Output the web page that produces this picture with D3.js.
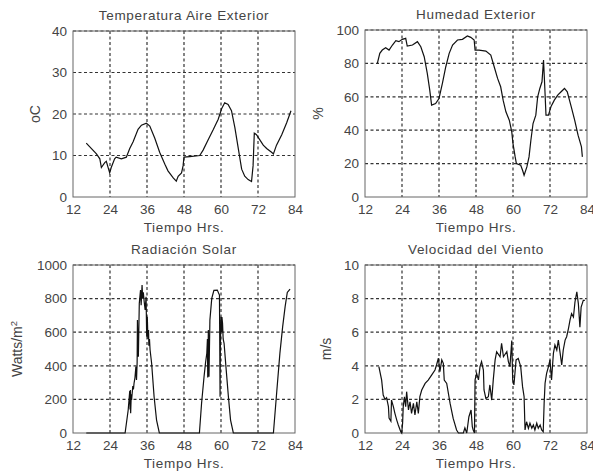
<!DOCTYPE html>
<html>
<head>
<meta charset="utf-8">
<script src="https://cdn.jsdelivr.net/npm/d3@7"></script>
<style>
  body { margin: 0; background: #fff; }
  text { font-family: "Liberation Sans", Arial, sans-serif; fill: #444; }
</style>
</head>
<body>
<svg id="chart"></svg>
<script>
// Set dimensions for the SVG
const width = 593;
const height = 476;

// Shared x ticks (hours)
const hourTicks = [12, 24, 36, 48, 60, 72, 84];

// Temperatura Aire Exterior [hour, oC]
const temperature = [
  [16.3, 13], [19.6, 10.4], [20.7, 9.2], [21.2, 7.1], [22.3, 8.3], [22.8, 8.6],
  [23.9, 5.8], [24.4, 7.1], [25.5, 9.2], [26, 9.6], [27.7, 9.2], [29.3, 9.6],
  [30.4, 11.7], [31.5, 13.3], [33.1, 16.3], [34.2, 17.3], [35.8, 17.8], [36.9, 17.1],
  [38.5, 14.2], [40.1, 10.8], [41.8, 7.9], [42.8, 6.3], [44.5, 4.6], [45.5, 3.8],
  [46.1, 5], [47.2, 5.8], [47.7, 7.5], [48, 9.6], [49.9, 9.75], [53.1, 10],
  [54.2, 11.3], [55.8, 13.75], [57.5, 16.25], [59.1, 18.75], [60.2, 21.25], [61.2, 22.7],
  [62.3, 22.3], [63.4, 20.8], [64.5, 16.7], [65.6, 11.7], [66.7, 6.7], [67.7, 5],
  [68.8, 4.2], [69.9, 3.75], [70.4, 7.5], [70.8, 15.4], [71.5, 15], [72.6, 13.75],
  [73.7, 12.5], [74.8, 11.7], [76.4, 10.8], [77, 10.4], [78, 12.5], [79.7, 15],
  [81.3, 17.9], [82.7, 20.8]
];

// Humedad Exterior [hour, %]
const humidity = [
  [16, 80], [16.8, 86], [17.6, 88], [18.7, 89.4], [19.8, 88], [20.9, 91], [22, 93.6],
  [23, 93], [24.1, 94.4], [25.2, 95], [25.7, 90.4], [27.4, 91], [29, 93], [30.1, 90],
  [31.2, 84], [32.2, 74], [33, 64], [33.6, 55], [34.9, 56], [36, 59], [37.1, 68],
  [38.2, 78], [39.3, 86], [40.4, 91], [42, 94], [43.6, 94.4], [45.2, 96.4], [46.3, 95.6],
  [47.4, 94], [47.7, 88], [49, 88], [51.2, 87.4], [52.8, 85], [53.9, 78], [55, 71],
  [56, 66], [56.8, 58], [57.7, 51], [58.8, 46], [59.6, 39], [60, 32], [60.7, 24],
  [61.1, 20], [62.5, 19], [63.1, 16], [63.6, 13], [64.5, 18], [65.2, 24], [65.8, 34],
  [66.5, 44], [67.4, 49], [68, 60], [68.7, 65], [69.4, 69], [69.9, 82], [70.3, 66],
  [70.7, 49], [71.5, 49], [72.3, 54], [73.4, 58], [74.5, 61], [75.6, 63], [76.7, 65],
  [77.6, 63], [78.9, 54], [80, 46], [81.1, 37], [82.2, 30], [82.5, 24]
];

// Radiación Solar [hour, W/m2]
const radiation = [
  [16.3, 0], [28.9, 0], [29.9, 137], [30.4, 250], [30.5, 140], [30.6, 256], [30.7, 117],
  [30.9, 230], [31, 196], [31.4, 280], [31.6, 260], [31.8, 296], [32.1, 330],
  [32.4, 395], [32.6, 315], [32.8, 420], [32.9, 672], [33.1, 500], [33.2, 454],
  [33.5, 772], [33.9, 851], [34.1, 760], [34.4, 881], [34.6, 800], [34.8, 837],
  [35.1, 780], [35.4, 732], [35.7, 811], [35.9, 573], [36.1, 692], [36.3, 560],
  [36.5, 613], [36.6, 520], [36.8, 560], [37, 494], [37.5, 415], [38.3, 216],
  [39.1, 77], [40, 0], [53, 0], [53.7, 177], [54.5, 335], [55, 420], [55.4, 474],
  [55.6, 560], [55.7, 330], [55.9, 613], [56.1, 335], [56.4, 672], [57, 801],
  [57.7, 849], [58.8, 851], [59.5, 821], [59.7, 216], [59.8, 520], [60, 692],
  [60.2, 600], [60.3, 690], [60.5, 653], [60.7, 560], [61, 534], [61.6, 395],
  [62.4, 216], [63.1, 77], [64, 0], [77, 0], [78.1, 250], [79.1, 474], [80, 633],
  [80.8, 752], [81.5, 837], [82.4, 857]
];

// Velocidad del Viento [hour, m/s]
const wind = [
  [16.5, 3.95], [17.4, 3.15], [17.9, 2.26], [18.5, 2.0], [19.0, 2.1], [19.6, 1.57],
  [19.8, 0.89], [20.4, 0.7], [20.6, 1.96], [21.2, 1.57], [21.7, 1.17], [22.3, 0.77],
  [22.8, 0.48], [23.6, 0.08], [23.9, 0], [24.2, 0.6], [24.4, 1.57], [24.8, 2.16],
  [25.2, 1.57], [25.5, 2.46], [26.1, 1.37], [26.6, 1.86], [27.1, 1.17], [27.7, 1.76],
  [28.2, 1.07], [28.8, 1.86], [29.3, 1.17], [29.8, 2.16], [30.4, 2.56], [31.5, 2.95],
  [32.5, 3.15], [33.6, 3.45], [34.7, 3.75], [35.2, 4.05], [35.8, 4.45], [36.3, 3.65],
  [36.9, 4.35], [37.4, 4.15], [37.7, 3.15], [38.5, 2.95], [39.6, 1.76], [40.6, 0.87],
  [41.7, 0.18], [42.3, 0], [43.9, 0], [44.4, 0.3], [45, 0], [45.7, 0.97], [46.4, 1.37],
  [46.8, 0.38], [47.1, 0.18], [47.5, 0], [47.7, 3.16], [48.2, 3.55], [48.8, 3.16],
  [49.3, 3.95], [49.8, 4.25], [50.4, 3.75], [50.6, 2.56], [51.2, 2.06], [52, 2.16],
  [52.5, 2.86], [53.1, 1.96], [53.6, 3.16], [54.2, 4.35], [54.7, 4.84], [55.8, 4.54],
  [56.3, 5.34], [56.9, 4.54], [58, 4.84], [58.5, 4.25], [59, 3.95], [59.6, 5.5],
  [59.9, 3.16], [60.3, 2.86], [61, 4.35], [61.7, 4.44], [62.5, 3.95], [63.1, 2.76],
  [63.6, 2.16], [63.9, 0.18], [64.4, 0.67], [65, 0.28], [65.5, 0.58], [66.1, 0.28],
  [66.6, 0.48], [67.1, 0.18], [67.7, 0.58], [68.2, 0.28], [68.8, 0.48], [69.3, 0.18],
  [69.8, 0.08], [70.1, 1.77], [70.4, 2.96], [70.9, 3.55], [71.5, 3.95], [72, 4.35],
  [72.5, 3.16], [73.1, 4.74], [73.6, 5.24], [74.2, 4.94], [74.7, 5.53], [75.3, 4.74],
  [75.8, 4.05], [76.3, 4.94], [76.9, 5.53], [77.4, 5.73], [78, 6.23], [78.5, 6.73],
  [79, 7.1], [79.6, 6.9], [80.1, 7.8], [80.7, 8.4], [81.2, 7.7], [81.7, 6.3],
  [82.1, 7.5], [82.8, 7.9], [83.3, 7.9]
];

// Panel definitions (box in pixels)
const panels = [
  { title: "Temperatura Aire Exterior", ylabel: "oC", data: temperature,
    yMax: 40, yTicks: [0, 10, 20, 30, 40], x0: 73, x1: 295, y0: 31, y1: 197, labelX: 40 },
  { title: "Humedad Exterior", ylabel: "%", data: humidity,
    yMax: 100, yTicks: [0, 20, 40, 60, 80, 100], x0: 365, x1: 587, y0: 30, y1: 197, labelX: 323 },
  { title: "Radiación Solar", ylabel: "Watts/m", sup: "2", data: radiation,
    yMax: 1000, yTicks: [0, 200, 400, 600, 800, 1000], x0: 73, x1: 295, y0: 265, y1: 433, labelX: 22 },
  { title: "Velocidad del Viento", ylabel: "m/s", data: wind,
    yMax: 10, yTicks: [0, 2, 4, 6, 8, 10], x0: 365, x1: 587, y0: 265, y1: 433, labelX: 331 }
];

const svg = d3.select("#chart").attr("width", width).attr("height", height);

panels.forEach((p) => {
  const x = d3.scaleLinear().domain([12, 84]).range([p.x0, p.x1]);
  const y = d3.scaleLinear().domain([0, p.yMax]).range([p.y1, p.y0]);
  const g = svg.append("g");

  // Grid lines (dotted)
  g.selectAll(".gx")
    .data(hourTicks.slice(1, -1))
    .enter()
    .append("line")
    .attr("x1", (d) => x(d)).attr("x2", (d) => x(d))
    .attr("y1", p.y0).attr("y2", p.y1)
    .attr("stroke", "#333").attr("stroke-width", 1.2)
    .attr("stroke-dasharray", "3,2.5");
  g.selectAll(".gy")
    .data(p.yTicks.slice(1))
    .enter()
    .append("line")
    .attr("x1", p.x0).attr("x2", p.x1)
    .attr("y1", (d) => y(d)).attr("y2", (d) => y(d))
    .attr("stroke", "#333").attr("stroke-width", 1.2)
    .attr("stroke-dasharray", "3,2.5");

  // Axes
  const xAxis = d3.axisBottom(x).tickValues(hourTicks).tickSize(0).tickPadding(7);
  const yAxis = d3.axisLeft(y).tickValues(p.yTicks).tickFormat(d3.format("d"))
    .tickSize(0).tickPadding(6);
  g.append("g").attr("transform", `translate(0,${p.y1})`).call(xAxis)
    .call((a) => a.select(".domain").remove())
    .selectAll("text").attr("font-size", 13.5).attr("fill", "#444");
  g.append("g").attr("transform", `translate(${p.x0},0)`).call(yAxis)
    .call((a) => a.select(".domain").remove())
    .selectAll("text").attr("font-size", 13.5).attr("fill", "#444");

  // Frame
  g.append("rect")
    .attr("x", p.x0).attr("y", p.y0)
    .attr("width", p.x1 - p.x0).attr("height", p.y1 - p.y0)
    .attr("fill", "none").attr("stroke", "#666").attr("stroke-width", 1);

  // Data line
  const line = d3.line().x((d) => x(d[0])).y((d) => y(d[1]));
  g.append("path")
    .datum(p.data)
    .attr("d", line)
    .attr("fill", "none")
    .attr("stroke", "#111")
    .attr("stroke-width", 1.2);

  // Title
  g.append("text")
    .attr("x", (p.x0 + p.x1) / 2).attr("y", p.y0 - 11)
    .attr("text-anchor", "middle").attr("font-size", 13.5)
    .attr("letter-spacing", 0.7)
    .text(p.title);

  // x label
  g.append("text")
    .attr("x", (p.x0 + p.x1) / 2).attr("y", p.y1 + 35)
    .attr("text-anchor", "middle").attr("font-size", 13.5)
    .attr("letter-spacing", 0.7)
    .text("Tiempo Hrs.");

  // y label
  const yl = g.append("text")
    .attr("transform", `translate(${p.labelX},${(p.y0 + p.y1) / 2}) rotate(-90)`)
    .attr("text-anchor", "middle").attr("font-size", 14)
    .text(p.ylabel);
  if (p.sup) {
    yl.append("tspan").attr("dy", -5).attr("font-size", 9.5).text(p.sup);
  }
});
</script>
</body>
</html>
